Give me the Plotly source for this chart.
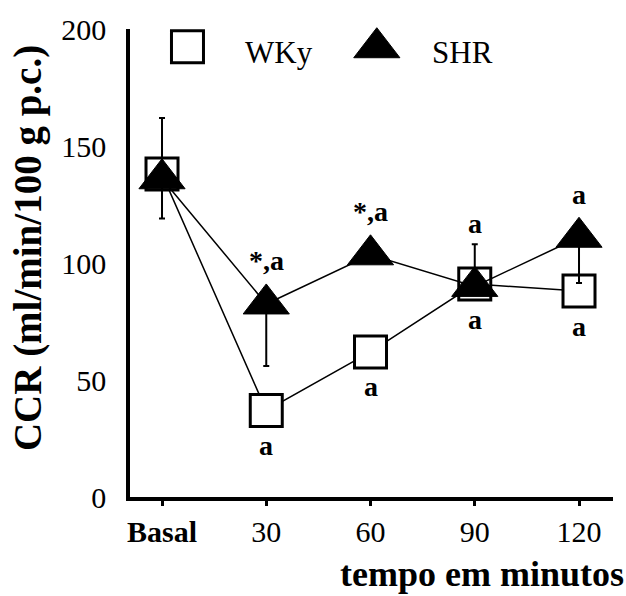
import plotly.graph_objects as go

# ---- data ----
categories = ["Basal", "30", "60", "90", "120"]
wky = [138, 37, 62, 91, 88]
shr = [136, 82.5, 103.5, 90, 111]
shr_err_plus = [26, 0, 0, 18, 0]
shr_err_minus = [17, 26.5, 0, 0, 19.5]
labels_shr = ["", "*,a", "*,a", "a", "a"]
labels_wky = ["", "a", "a", "a", "a"]
y_ticks = [0, 50, 100, 150, 200]
series_names = ["WKy", "SHR"]

W, H = 626, 596
M_L, M_R, M_T, M_B = 130, 13, 19, 99
Y_MAX = 200
ppu = (H - M_T - M_B) / Y_MAX  # pixels per data unit

FONT = "Liberation Serif"
xs = list(range(len(categories)))

fig = go.Figure()

fig.add_trace(go.Scatter(
    x=xs, y=wky, mode="lines+markers", name=series_names[0],
    line=dict(color="black", width=1.5),
    marker=dict(symbol="square", size=32, color="white",
                line=dict(color="black", width=3)),
    cliponaxis=False, showlegend=False,
))
fig.add_trace(go.Scatter(
    x=xs, y=shr, mode="lines+markers", name=series_names[1],
    line=dict(color="black", width=1.5),
    marker=dict(symbol="triangle-up", size=40, color="black",
                line=dict(color="black", width=1)),
    error_y=dict(type="data", symmetric=False, array=shr_err_plus,
                 arrayminus=shr_err_minus, color="black", thickness=2, width=3),
    cliponaxis=False, showlegend=False,
))

# legend drawn on an overlay axis (fractions of plot area)
fig.add_trace(go.Scatter(
    x=[0.119], y=[0.962], mode="markers", xaxis="x2", yaxis="y2",
    marker=dict(symbol="square", size=32, color="white",
                line=dict(color="black", width=3)),
    cliponaxis=False, showlegend=False, hoverinfo="skip",
))
fig.add_trace(go.Scatter(
    x=[0.511], y=[0.960], mode="markers", xaxis="x2", yaxis="y2",
    marker=dict(symbol="triangle-up", size=40, color="black",
                line=dict(color="black", width=1)),
    cliponaxis=False, showlegend=False, hoverinfo="skip",
))

annotations = []
for i, (v, lab, p) in enumerate(zip(shr, labels_shr, shr_err_plus)):
    if lab:
        shift = max(23, p * ppu) + 20
        annotations.append(dict(x=i, y=v, xref="x", yref="y", text=lab,
                                showarrow=False, yshift=shift, yanchor="middle",
                                font=dict(family=FONT, size=28, color="black", weight="bold")))
for i, (v, lab) in enumerate(zip(wky, labels_wky)):
    if lab:
        annotations.append(dict(x=i, y=v, xref="x", yref="y", text=lab,
                                showarrow=False, yshift=-35, yanchor="middle",
                                font=dict(family=FONT, size=28, color="black", weight="bold")))

annotations.append(dict(x=0.234, y=0.95, xref="paper", yref="paper", text=series_names[0],
                        showarrow=False, xanchor="left", yanchor="middle",
                        font=dict(family=FONT, size=31, color="black")))
annotations.append(dict(x=0.621, y=0.95, xref="paper", yref="paper", text=series_names[1],
                        showarrow=False, xanchor="left", yanchor="middle",
                        font=dict(family=FONT, size=31, color="black")))

annotations.append(dict(x=-0.211, y=0.532, xref="paper", yref="paper",
                        text="CCR (ml/min/100 g p.c.)", textangle=-90,
                        showarrow=False, xanchor="center", yanchor="middle",
                        font=dict(family=FONT, size=39, color="black", weight="bold")))
annotations.append(dict(x=1.027, y=-0.165, xref="paper", yref="paper",
                        text="tempo em minutos",
                        showarrow=False, xanchor="right", yanchor="middle",
                        font=dict(family=FONT, size=36, color="black", weight="bold")))

ticktext = ["<b>%s</b>" % c if not c.isdigit() else c for c in categories]

fig.update_layout(
    width=W, height=H,
    margin=dict(l=M_L, r=M_R, t=M_T, b=M_B, pad=0),
    paper_bgcolor="white", plot_bgcolor="white",
    font=dict(family=FONT, color="black"),
    annotations=annotations,
    xaxis=dict(range=[-0.307, 4.326], tickvals=xs, ticktext=ticktext,
               showline=True, linecolor="black", linewidth=3.5,
               ticks="outside", ticklen=5, tickwidth=3, tickcolor="black",
               showgrid=False, zeroline=False,
               tickfont=dict(family=FONT, size=30, color="black")),
    yaxis=dict(range=[0, Y_MAX], tickvals=y_ticks,
               showline=True, linecolor="black", linewidth=3.5,
               ticks="", showgrid=False, zeroline=False, ticklabelstandoff=14,
               tickfont=dict(family=FONT, size=30, color="black")),
    xaxis2=dict(overlaying="x", range=[0, 1], visible=False),
    yaxis2=dict(overlaying="y", range=[0, 1], visible=False),
    showlegend=False,
)

fig.write_html("out.html")
